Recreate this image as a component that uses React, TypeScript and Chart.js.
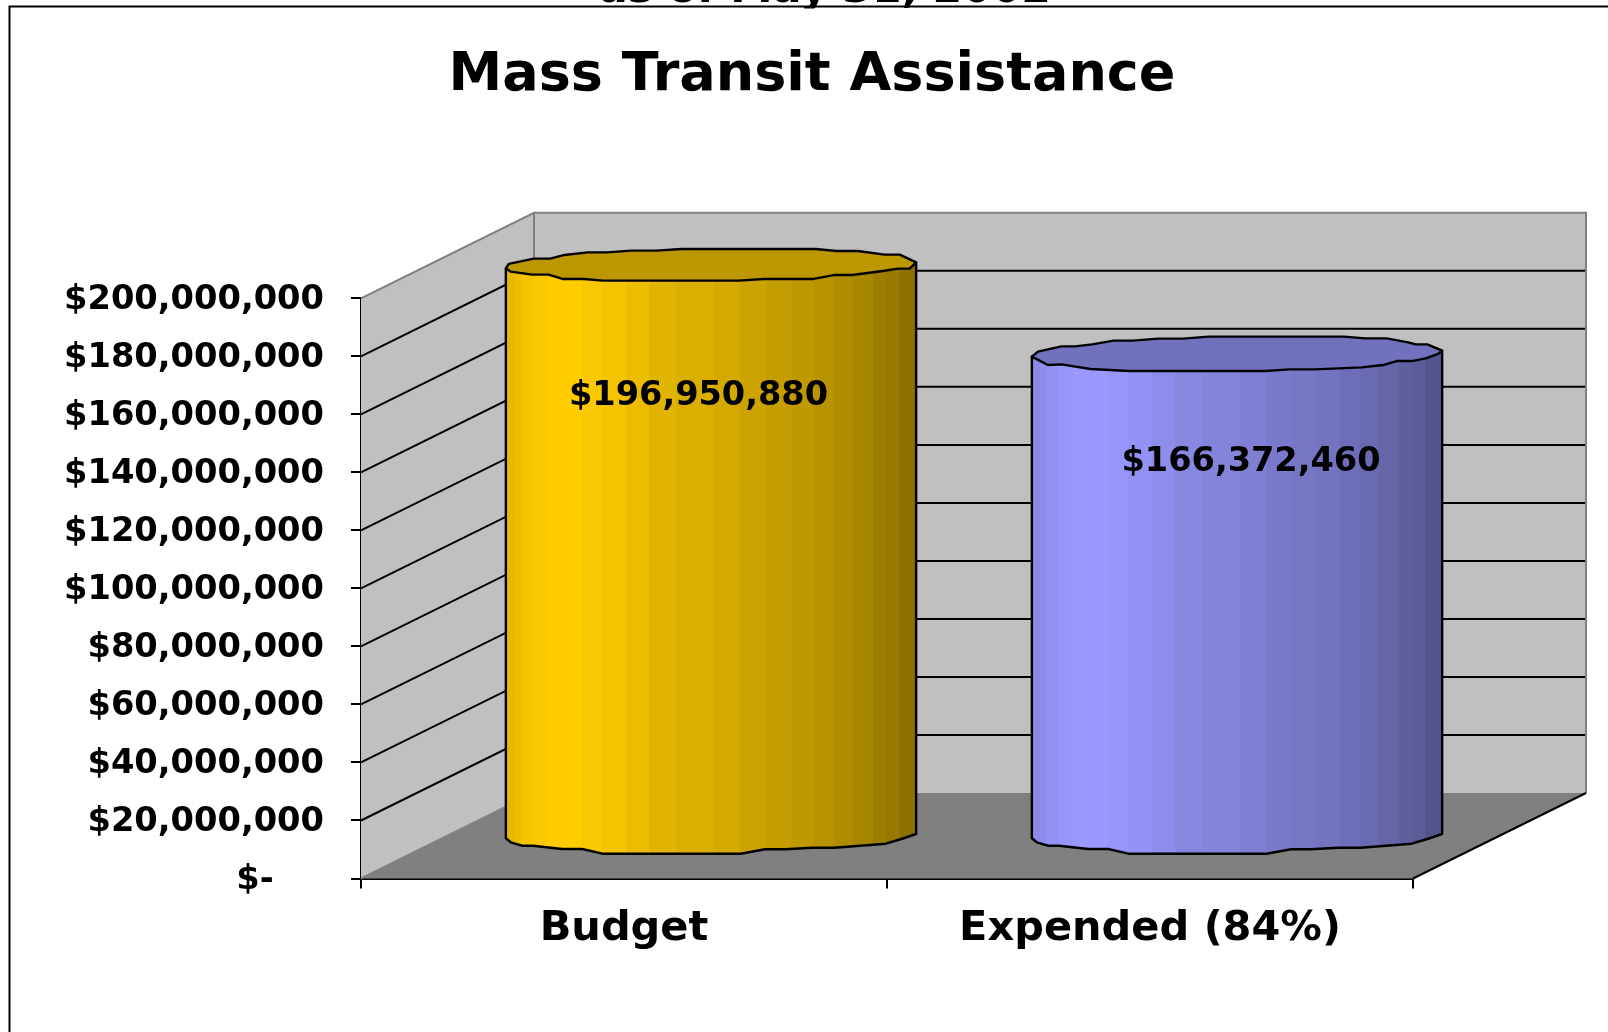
import React, { useEffect, useRef } from "react";
import { Chart, registerables } from "chart.js";

Chart.register(...registerables);

const categories = ["Budget", "Expended (84%)"];
const seriesValues = [196950880, 166372460];
const axisMax = 200000000;
const axisStep = 20000000;
const titleText = "Mass Transit Assistance";
const subtitleText = "as of May 31, 2002";

const FONT = '"DejaVu Sans", Verdana, sans-serif';
const DEPTH_X = 173;
const DEPTH_Y = 85.5;
const BAR_SHIFT_X = 87;
const BAR_SHIFT_Y = 41.5;

type P = [number, number];
const topOutlines: P[][] = [
  [[0, 2.7], [0.007, -1.7], [0.068, -7], [0.108, -7], [0.143, -10.7], [0.199, -13.3], [0.246, -13.3], [0.306, -15], [0.367, -15], [0.428, -16.7], [0.755, -16.7], [0.806, -14.7], [0.858, -14.7], [0.923, -11], [0.96, -11], [1, -3.3], [0.984, 3], [0.956, 3], [0.919, 5.3], [0.844, 9.3], [0.802, 9.3], [0.75, 13.3], [0.629, 13.3], [0.568, 15], [0.236, 15], [0.19, 13.3], [0.138, 13.3], [0.104, 9], [0.064, 9], [0.012, 6]],
  [[0, 2.3], [0.015, -2.7], [0.072, -8], [0.105, -8], [0.147, -10], [0.199, -13.7], [0.246, -13.7], [0.308, -15.7], [0.369, -15.7], [0.431, -17.7], [0.761, -17.7], [0.813, -16], [0.865, -16], [0.917, -12], [0.936, -10], [0.964, -10], [1, -3.7], [0.99, -0.5], [0.96, 4], [0.926, 6.7], [0.889, 6.7], [0.856, 10.7], [0.804, 13], [0.69, 15], [0.629, 15], [0.568, 16.7], [0.237, 16.7], [0.143, 14.7], [0.072, 10], [0.039, 10.7]],
];
const bottomOutline: P[] = [[0, 2.3], [0.012, 6.3], [0.039, 9.7], [0.066, 9.7], [0.137, 13], [0.186, 13], [0.235, 17.7], [0.572, 17.7], [0.632, 13.3], [0.681, 13.3], [0.746, 11.7], [0.801, 11.7], [0.926, 7.7], [0.964, 3], [1, -2]];
const bandEdges = [0, 0.019, 0.037, 0.064, 0.1, 0.186, 0.235, 0.292, 0.35, 0.414, 0.507, 0.57, 0.634, 0.695, 0.752, 0.8, 0.845, 0.894, 0.927, 0.958, 1];
const bandShades = [0.9, 0.925, 0.96, 0.98, 1, 0.98, 0.96, 0.92, 0.88, 0.86, 0.83, 0.8, 0.77, 0.75, 0.72, 0.69, 0.66, 0.62, 0.6, 0.55];
const barColors: [number, number, number][] = [[255, 204, 0], [153, 153, 255]];
const capShade = 0.74;
const labelOffsets: P[] = [[-12.5, 131], [14, 108]];

const shade = (c: [number, number, number], f: number) =>
  `rgb(${Math.round(c[0] * f)},${Math.round(c[1] * f)},${Math.round(c[2] * f)})`;

const scenePlugin = {
  id: "scene",
  beforeDatasetsDraw(chart: any) {
    const { ctx, chartArea: a, scales } = chart;
    const y = scales.y;
    const bx = a.left + DEPTH_X, rx = a.right + DEPTH_X;
    const top = a.top - DEPTH_Y, by = a.bottom - DEPTH_Y;
    ctx.save();
    ctx.fillStyle = "#c0c0c0";
    ctx.fillRect(bx, top, rx - bx, by - top);
    ctx.beginPath();
    ctx.moveTo(a.left, a.top); ctx.lineTo(bx, top); ctx.lineTo(bx, by); ctx.lineTo(a.left, a.bottom);
    ctx.closePath(); ctx.fill();
    ctx.fillStyle = "#808080";
    ctx.beginPath();
    ctx.moveTo(a.left, a.bottom); ctx.lineTo(a.right, a.bottom); ctx.lineTo(rx, by); ctx.lineTo(bx, by);
    ctx.closePath(); ctx.fill();

    ctx.strokeStyle = "#000";
    ctx.lineWidth = 2;
    for (let v = axisStep; v < axisMax; v += axisStep) {
      const py = y.getPixelForValue(v);
      ctx.beginPath();
      ctx.moveTo(a.left, py); ctx.lineTo(bx, py - DEPTH_Y); ctx.lineTo(rx, py - DEPTH_Y);
      ctx.stroke();
    }
    ctx.strokeStyle = "#808080";
    ctx.beginPath();
    ctx.moveTo(a.left, a.top); ctx.lineTo(bx, top); ctx.lineTo(rx, top); ctx.lineTo(rx, by);
    ctx.moveTo(bx, top); ctx.lineTo(bx, by);
    ctx.moveTo(a.left, a.bottom); ctx.lineTo(bx, by);
    ctx.stroke();
    ctx.strokeStyle = "#000";
    ctx.beginPath();
    ctx.moveTo(a.right, a.bottom); ctx.lineTo(rx, by);
    ctx.stroke();
    ctx.restore();
    ctx.save();
    ctx.translate(BAR_SHIFT_X, -BAR_SHIFT_Y);
  },
  afterDatasetsDraw(chart: any) {
    const { ctx } = chart;
    ctx.restore();
    const meta = chart.getDatasetMeta(0);
    ctx.save();
    ctx.lineJoin = "round";
    meta.data.forEach((bar: any, i: number) => {
      const w = bar.width;
      const left = bar.x - w / 2 + BAR_SHIFT_X;
      const ty = bar.y - BAR_SHIFT_Y;
      const by = bar.base - BAR_SHIFT_Y;
      const outline = topOutlines[i];
      const rightIdx = outline.findIndex((p) => p[0] === 1);
      const color = barColors[i];

      const grad = ctx.createLinearGradient(left, 0, left + w, 0);
      bandShades.forEach((f, k) => {
        const c = shade(color, f);
        grad.addColorStop(bandEdges[k], c);
        grad.addColorStop(bandEdges[k + 1], c);
      });
      ctx.beginPath();
      ctx.moveTo(left, ty + outline[0][1]);
      bottomOutline.forEach(([u, v]) => ctx.lineTo(left + u * w, by + v));
      ctx.lineTo(left + w, ty + outline[rightIdx][1]);
      ctx.closePath();
      ctx.fillStyle = grad;
      ctx.fill();
      ctx.strokeStyle = "#000";
      ctx.lineWidth = 2.4;
      ctx.stroke();

      ctx.beginPath();
      outline.forEach(([u, v], k) => {
        if (k === 0) ctx.moveTo(left + u * w, ty + v);
        else ctx.lineTo(left + u * w, ty + v);
      });
      ctx.closePath();
      ctx.fillStyle = shade(color, capShade);
      ctx.fill();
      ctx.stroke();

      ctx.fillStyle = "#000";
      ctx.font = `bold 33.6px ${FONT}`;
      ctx.textAlign = "center";
      ctx.textBaseline = "middle";
      ctx.fillText(
        "$" + seriesValues[i].toLocaleString("en-US"),
        left + w / 2 + labelOffsets[i][0],
        ty + labelOffsets[i][1]
      );
    });
    ctx.restore();
  },
  afterDraw(chart: any) {
    const { ctx } = chart;
    ctx.save();
    ctx.strokeStyle = "#000";
    ctx.lineWidth = 2;
    ctx.beginPath();
    ctx.moveTo(9.5, 1032); ctx.lineTo(9.5, 6.5); ctx.lineTo(1608, 6.5);
    ctx.stroke();
    ctx.beginPath();
    ctx.rect(0, 0, 1608, 8.5);
    ctx.clip();
    ctx.fillStyle = "#000";
    ctx.font = `bold 42.5px ${FONT}`;
    ctx.textAlign = "center";
    ctx.textBaseline = "alphabetic";
    ctx.fillText(subtitleText, 825, 2);
    ctx.restore();
  },
};

export default function App() {
  const ref = useRef<HTMLCanvasElement>(null);
  useEffect(() => {
    document.body.style.margin = "0";
    document.body.style.background = "#fff";
    const chart = new Chart(ref.current!, {
      type: "bar",
      data: {
        labels: categories,
        datasets: [
          {
            data: seriesValues,
            backgroundColor: barColors.map((c) => shade(c, 1)),
            categoryPercentage: 0.78,
            barPercentage: 1,
          },
        ],
      },
      options: {
        animation: false,
        responsive: false,
        layout: { padding: { left: 16, right: 0, top: 0, bottom: 0 } },
        plugins: {
          legend: { display: false },
          tooltip: { enabled: false },
          title: {
            display: true,
            text: titleText,
            color: "#000",
            font: { family: FONT, size: 54, weight: "bold", lineHeight: 1.2 },
            padding: { top: 44, bottom: 189.5 },
          },
        },
        scales: {
          x: {
            offset: true,
            grid: { display: true, drawOnChartArea: false, color: "#000", lineWidth: 2, tickLength: 10, tickColor: "#000", offset: true },
            border: { display: true, color: "#000", width: 2 },
            ticks: { color: "#000", padding: 16, font: { family: FONT, size: 41.5, weight: "bold" }, maxRotation: 0, autoSkip: false },
            afterFit: (s: any) => { s.height = 153.5; },
          },
          y: {
            min: 0,
            max: axisMax,
            position: "left",
            grid: { display: true, drawOnChartArea: false, color: "#000", lineWidth: 2, tickLength: 10, tickColor: "#000" },
            border: { display: true, color: "#000", width: 2 },
            ticks: {
              stepSize: axisStep,
              color: "#000",
              padding: 27,
              labelOffset: 2,
              font: { family: FONT, size: 33.7, weight: "bold" },
              callback: (v: any) => (v === 0 ? "$-    \u200A" : "$" + Number(v).toLocaleString("en-US")),
            },
            afterFit: (s: any) => { s.width = 345; },
          },
          pad: {
            type: "linear",
            position: "right",
            display: true,
            grid: { display: false },
            border: { display: false },
            ticks: { display: false },
            afterFit: (s: any) => { s.width = 195; },
          },
        },
      },
      plugins: [scenePlugin],
    } as any);
    return () => chart.destroy();
  }, []);
  return <canvas ref={ref} width={1608} height={1032} style={{ display: "block" }} />;
}
